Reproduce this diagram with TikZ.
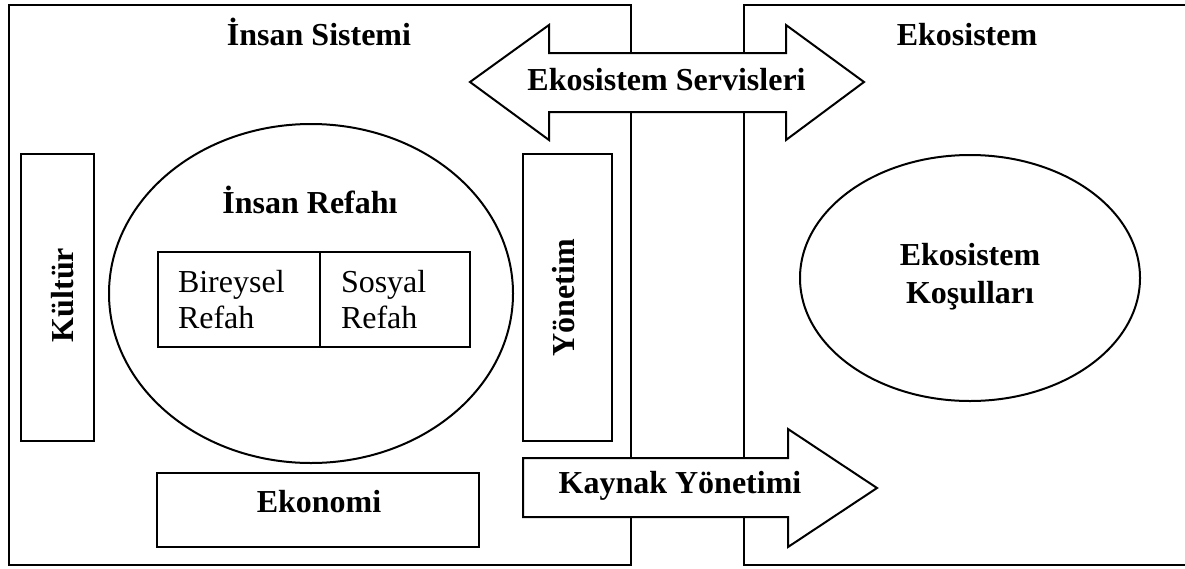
\documentclass[tikz,border=0pt]{standalone}
\usepackage{fontspec}
\setmainfont{Liberation Serif}
\usetikzlibrary{shapes.geometric}
\begin{document}
\begin{tikzpicture}[x=1pt,y=-1pt,
  every node/.style={inner sep=0pt, outer sep=0pt},
  box/.style={draw, rectangle, line width=2pt, anchor=north west},
  frame/.style={draw, line width=2.6pt},
  oval/.style={draw, ellipse, line width=2pt},
  arrowshape/.style={draw, fill=white, line width=2pt, line join=miter},
  bold/.style={font=\fontsize{32}{37}\selectfont\bfseries, anchor=base},
  plain/.style={font=\fontsize{32}{37}\selectfont, anchor=base west},
]
\useasboundingbox (0,0) rectangle (1185,568);
% frames
\node[box, line width=2.6pt, minimum width=622, minimum height=560] (insan) at (9,5) {};
\coordinate (ekoTR) at (1185,5);
\coordinate (ekoTL) at (744,5);
\coordinate (ekoBL) at (744,565);
\coordinate (ekoBR) at (1185,565);
\draw[frame] (ekoTR) -- (ekoTL) -- (ekoBL) -- (ekoBR);
% arrows
\draw[arrowshape] (470,82) -- (549,25) -- (549,53) -- (786,53) -- (786,25) -- (864,82)
  -- (786,140) -- (786,112) -- (549,112) -- (549,140) -- cycle;
\draw[arrowshape] (523,458) -- (788,458) -- (788,429) -- (877,488) -- (788,547)
  -- (788,517) -- (523,517) -- cycle;
% inner shapes
\node[box, minimum width=73, minimum height=287] (kultur) at (21,154) {};
\node[box, minimum width=89, minimum height=287] (yonetim) at (523,154) {};
\node[box, minimum width=322, minimum height=74] (ekonomi) at (157,473) {};
\node[oval, minimum width=404, minimum height=339] (refah) at (311,293.5) {};
\node[box, minimum width=162, minimum height=95] (bireysel) at (158,252) {};
\node[box, minimum width=150, minimum height=95] (sosyal) at (320,252) {};
\node[oval, minimum width=340, minimum height=246] (kosul) at (970,278) {};
% texts
\node[bold] (tInsan) at (319,45) {İnsan Sistemi};
\node[bold] (tEko) at (967,45) {Ekosistem};
\node[bold] (tServ) at (666.5,90) {Ekosistem Servisleri};
\node[bold] (tKaynak) at (680,493) {Kaynak Yönetimi};
\node[bold] (tRefah) at (310,213) {İnsan Refahı};
\node[bold] (tEkonomi) at (319,512) {Ekonomi};
\node[bold, rotate=90] (tKultur) at (73,295) {Kültür};
\node[bold, rotate=90] (tYonetim) at (574,297.5) {Yönetim};
\node[bold] (tKosul1) at (970,265) {Ekosistem};
\node[bold] (tKosul2) at (970,303) {Koşulları};
\node[plain] (tBir1) at (178,292) {Bireysel};
\node[plain] (tBir2) at (178,328) {Refah};
\node[plain] (tSos1) at (341,292) {Sosyal};
\node[plain] (tSos2) at (341,328) {Refah};
\end{tikzpicture}
\end{document}
